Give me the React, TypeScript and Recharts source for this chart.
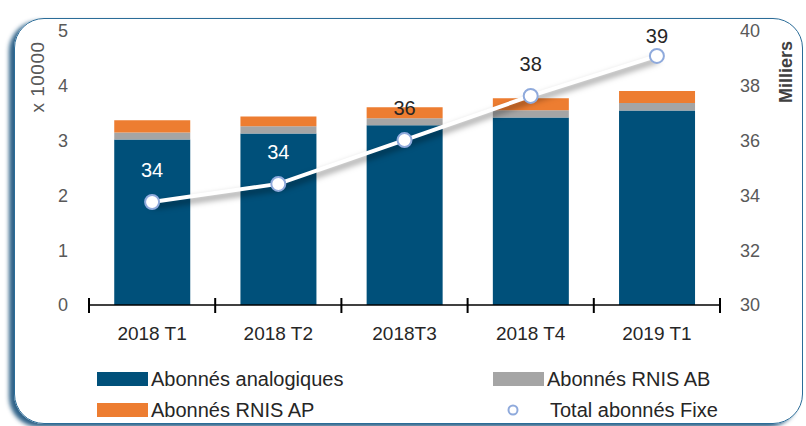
import React from 'react';
import { ComposedChart, Bar, Line, XAxis, YAxis, Legend, LabelList, Label } from 'recharts';

const categories = ['2018 T1', '2018 T2', '2018T3', '2018 T4', '2019 T1'];
const analogiques = [3.02, 3.13, 3.28, 3.42, 3.55];
const rnisAB = [0.13, 0.13, 0.13, 0.135, 0.135];
const rnisAP = [0.22, 0.18, 0.2, 0.22, 0.22];
const totalFixe = [33.76, 34.42, 36.02, 37.63, 39.09];
const totalLabels = ['34', '34', '36', '38', '39'];
const leftTicks = [0, 1, 2, 3, 4, 5];
const rightTicks = [30, 32, 34, 36, 38, 40];

const seriesNames = {
  analog: 'Abonnés analogiques',
  ab: 'Abonnés RNIS AB',
  ap: 'Abonnés RNIS AP',
  total: 'Total abonnés Fixe',
};

const COLORS = {
  analog: '#00507A',
  ab: '#A5A5A5',
  ap: '#ED7D31',
  dotStroke: '#8FAADC',
};

const data = categories.map((c, i) => ({
  cat: c,
  analog: analogiques[i],
  ab: rnisAB[i],
  ap: rnisAP[i],
  total: totalFixe[i],
}));

const FONT = '"Liberation Sans", Arial, sans-serif';

const XTick = (props: any) => {
  const { x, y, payload, index, visibleTicksCount } = props;
  const off = payload && typeof payload.offset === 'number' ? payload.offset : 0;
  return (
    <g>
      <line x1={x - off} x2={x - off} y1={y - 7} y2={y + 8} stroke="#000" strokeWidth={2} />
      {index === visibleTicksCount - 1 && (
        <line x1={x + off} x2={x + off} y1={y - 7} y2={y + 8} stroke="#000" strokeWidth={2} />
      )}
      <text x={x} y={y + 35} textAnchor="middle" fontSize={19} fill="#262626" fontFamily={FONT}>
        {payload.value}
      </text>
    </g>
  );
};

const PointLabel = (props: any) => {
  const vb = props.viewBox || {};
  const px = vb.x ?? props.x;
  const py = vb.y ?? props.y;
  const idx = props.index;
  const cy = Math.max(py - 32, 36);
  return (
    <text
      x={px}
      y={cy}
      dy="0.35em"
      textAnchor="middle"
      fontSize={20}
      fontFamily={FONT}
      fill={idx < 2 ? '#FFFFFF' : '#262626'}
    >
      {totalLabels[idx]}
    </text>
  );
};

const Swatch = ({ color }: { color: string }) => (
  <span style={{ display: 'inline-block', width: 51, height: 14, background: color, marginRight: 3 }} />
);

const LegendContent = () => {
  const item = (left: number, top: number, marker: React.ReactNode, text: string) => (
    <div
      style={{
        position: 'absolute',
        left,
        top,
        height: 22,
        display: 'flex',
        alignItems: 'center',
        whiteSpace: 'nowrap',
      }}
    >
      {marker}
      <span>{text}</span>
    </div>
  );
  return (
    <div style={{ position: 'relative', width: 806, height: 60, fontFamily: FONT, fontSize: 20, color: '#262626' }}>
      {item(97, 3, <Swatch color={COLORS.analog} />, seriesNames.analog)}
      {item(493, 3, <Swatch color={COLORS.ab} />, seriesNames.ab)}
      {item(97, 34, <Swatch color={COLORS.ap} />, seriesNames.ap)}
      {item(
        507,
        34,
        <svg width={43} height={14} style={{ marginRight: 0 }}>
          <circle cx={6} cy={7} r={4.5} fill="#fff" stroke={COLORS.dotStroke} strokeWidth={2} />
        </svg>,
        seriesNames.total
      )}
    </div>
  );
};

export default function App() {
  return (
    <div
      style={{
        position: 'absolute',
        left: 0,
        top: 0,
        width: 806,
        height: 426,
        background: '#fff',
        overflow: 'hidden',
        fontFamily: FONT,
      }}
    >
      <style>{`
        .total-line .recharts-line-curve, .total-line .recharts-line-dots {
          filter: drop-shadow(1px 4px 3px rgba(0,0,0,0.5));
        }
      `}</style>
      <div
        style={{
          position: 'absolute',
          left: 14,
          top: 18,
          width: 789,
          height: 406,
          boxSizing: 'border-box',
          border: '1.5px solid #2B6C98',
          borderRadius: 30,
          boxShadow: '-5px 3px 4px rgba(10,70,115,0.85)',
        }}
      />
      <div style={{ position: 'absolute', left: 0, top: 0 }}>
        <ComposedChart
          width={806}
          height={426}
          data={data}
          margin={{ top: 31, right: 0, bottom: 71, left: 0 }}
          barCategoryGap="20%"
        >
          <XAxis
            dataKey="cat"
            height={50}
            axisLine={{ stroke: '#000', strokeWidth: 1.5 }}
            tickLine={false}
            tickSize={0}
            tickMargin={0}
            interval={0}
            tick={<XTick />}
          />
          <YAxis
            yAxisId="left"
            domain={[0, 5]}
            ticks={leftTicks}
            width={89}
            axisLine={false}
            tickLine={false}
            tickSize={0}
            tickMargin={21}
            interval={0}
            tick={{ fill: '#595959', fontSize: 18, fontFamily: FONT }}
          >
            <Label
              content={(p: any) => (
                <text
                  transform={`translate(${(p.viewBox?.x ?? 0) + 37}, ${(p.viewBox?.y ?? 31) + 46}) rotate(-90)`}
                  textAnchor="middle"
                  dy="0.35em"
                  fontSize={19}
                  letterSpacing={0.5}
                  fill="#595959"
                  fontFamily={FONT}
                >
                  x 10000
                </text>
              )}
            />
          </YAxis>
          <YAxis
            yAxisId="right"
            orientation="right"
            domain={[30, 40]}
            ticks={rightTicks}
            width={86}
            axisLine={false}
            tickLine={false}
            tickSize={0}
            tickMargin={20}
            interval={0}
            tick={{ fill: '#595959', fontSize: 18, fontFamily: FONT }}
          >
            <Label
              content={(p: any) => (
                <text
                  transform={`translate(${(p.viewBox?.x ?? 720) + 66}, ${(p.viewBox?.y ?? 31) + 41}) rotate(-90)`}
                  textAnchor="middle"
                  dy="0.35em"
                  fontSize={18}
                  fontWeight="bold"
                  fill="#404040"
                  fontFamily={FONT}
                >
                  Milliers
                </text>
              )}
            />
          </YAxis>
          <Legend
            layout="horizontal"
            verticalAlign="middle"
            align="center"
            wrapperStyle={{ position: 'absolute', top: 365, left: 0, width: 806, height: 60 }}
            content={<LegendContent />}
          />
          <Bar yAxisId="left" dataKey="analog" stackId="a" fill={COLORS.analog} name={seriesNames.analog} isAnimationActive={false} />
          <Bar yAxisId="left" dataKey="ab" stackId="a" fill={COLORS.ab} name={seriesNames.ab} isAnimationActive={false} />
          <Bar yAxisId="left" dataKey="ap" stackId="a" fill={COLORS.ap} name={seriesNames.ap} isAnimationActive={false} />
          <Line
            yAxisId="right"
            className="total-line"
            dataKey="total"
            name={seriesNames.total}
            stroke="#FFFFFF"
            strokeWidth={4}
            dot={{ r: 7, fill: '#FFFFFF', stroke: COLORS.dotStroke, strokeWidth: 2 }}
            activeDot={false}
            isAnimationActive={false}
          >
            <LabelList dataKey="total" content={<PointLabel />} />
          </Line>
        </ComposedChart>
      </div>
    </div>
  );
}
